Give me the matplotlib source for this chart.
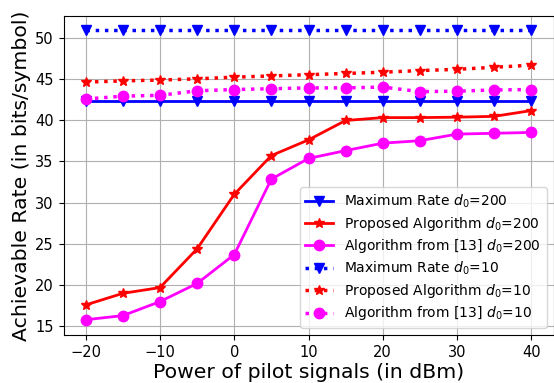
import matplotlib
matplotlib.use("Agg")
import matplotlib.pyplot as plt

power_dbm = [-20, -15, -10, -5, 0, 5, 10, 15, 20, 25, 30, 35, 40]

max_rate_200 = [42.3] * 13
proposed_200 = [17.6, 19.0, 19.7, 24.4, 31.0, 35.7, 37.6, 39.95, 40.3, 40.3, 40.35, 40.45, 41.15]
alg13_200 = [15.8, 16.3, 18.0, 20.2, 23.7, 32.85, 35.35, 36.3, 37.2, 37.5, 38.3, 38.4, 38.5]

max_rate_10 = [50.9] * 13
proposed_10 = [44.6, 44.75, 44.85, 45.0, 45.2, 45.35, 45.5, 45.65, 45.8, 46.0, 46.15, 46.4, 46.65]
alg13_10 = [42.55, 42.9, 43.0, 43.55, 43.7, 43.8, 43.9, 43.9, 44.0, 43.45, 43.5, 43.65, 43.7]

fig = plt.figure(figsize=(5.54, 3.83), dpi=100)
ax = fig.add_axes([63.5 / 554, 1 - 335 / 383, (553.5 - 63.5) / 554, (335 - 15.7) / 383])

lw = 2
ms = 7.5
ax.plot(power_dbm, max_rate_200, '-v', color='blue', lw=lw, ms=ms, label=r'Maximum Rate $d_0$=200')
ax.plot(power_dbm, proposed_200, '-*', color='red', lw=lw, ms=ms, label=r'Proposed Algorithm $d_0$=200')
ax.plot(power_dbm, alg13_200, '-o', color='magenta', lw=lw, ms=ms, label=r'Algorithm from [13] $d_0$=200')
ax.plot(power_dbm, max_rate_10, ':v', color='blue', lw=lw + 0.5, ms=ms, label=r'Maximum Rate $d_0$=10')
ax.plot(power_dbm, proposed_10, ':*', color='red', lw=lw + 0.5, ms=ms, label=r'Proposed Algorithm $d_0$=10')
ax.plot(power_dbm, alg13_10, ':o', color='magenta', lw=lw + 0.5, ms=ms, label=r'Algorithm from [13] $d_0$=10')

ax.set_xticks([-20, -10, 0, 10, 20, 30, 40])
ax.set_yticks([15, 20, 25, 30, 35, 40, 45, 50])
ax.set_xlim(-23, 43)
ax.set_ylim(13.95, 52.65)
ax.tick_params(labelsize=10.5)
ax.grid(True, color='#b0b0b0', lw=0.8)
ax.set_xlabel('Power of pilot signals (in dBm)', fontsize=14.7, labelpad=2)
ax.set_ylabel('Achievable Rate (in bits/symbol)', fontsize=14.7, labelpad=3)
ax.legend(loc='lower right', fontsize=10, framealpha=0.8, labelspacing=0.33)

fig.savefig('out.png', dpi=100)
